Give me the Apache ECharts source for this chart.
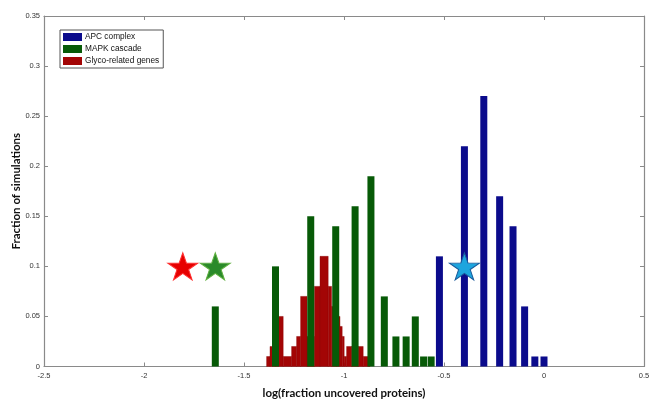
<!DOCTYPE html>
<html>
<head>
<meta charset="utf-8">
<script src="https://cdn.jsdelivr.net/npm/echarts@6/dist/echarts.min.js"></script>
<style>
  html, body { margin: 0; padding: 0; background: #fff; }
  #chart { width: 651px; height: 402px; }
</style>
</head>
<body>
<div id="chart"></div>
<script>
// APC complex (10 proteins): x = log10(k/10), k = 3..10
const apcX = [-0.5229, -0.3979, -0.3010, -0.2218, -0.1549, -0.0969, -0.0458, 0];
const apcY = [0.11, 0.22, 0.27, 0.17, 0.14, 0.06, 0.01, 0.01];

// MAPK cascade (44 proteins): x = log10(k/44), k = 1..12
const mapkX = [-1.6435, -1.3424, -1.1663, -1.0414, -0.9445, -0.8653,
               -0.7984, -0.7404, -0.6893, -0.6435, -0.6021, -0.5643];
const mapkY = [0.06, 0.10, 0.15, 0.14, 0.16, 0.19, 0.07, 0.03, 0.03, 0.05, 0.01, 0.01];

// Glyco-related genes: histogram bin edges and heights
const glycoEdges = [-1.387, -1.370, -1.342, -1.304, -1.262, -1.237, -1.217, -1.185,
                    -1.148, -1.120, -1.079, -1.062, -1.037, -1.020, -1.009, -0.999,
                    -0.987, -0.962, -0.929, -0.904, -0.870];
const glycoY = [0.01, 0.02, 0.05, 0.01, 0.02, 0.03, 0.07, 0.03, 0.08, 0.11,
                0.08, 0.06, 0.05, 0.04, 0.03, 0.01, 0.02, 0.02, 0.02, 0.01];

// Observed values (stars)
const starGlyco = [-1.806, 0.10];
const starMapk = [-1.6435, 0.10];
const starApc = [-0.3979, 0.10];

const xTicks = { min: -2.5, max: 0.5, interval: 0.5 };
const yTicks = { min: 0, max: 0.35, interval: 0.05 };

const blue = '#0b0b8c';
const green = '#075a07';
const red = '#a30505';

const starPath = 'path://M50,0 L61.8,35.1 L98.9,35.1 L68.9,56.9 L80.3,92.1 L50,70.3 L19.7,92.1 L31.1,56.9 L1.1,35.1 L38.2,35.1 Z';

const pairs = (xs, ys) => xs.map((x, i) => [x, ys[i]]);
const glycoData = glycoY.map((v, i) => [glycoEdges[i], glycoEdges[i + 1], v]);

const axisColor = '#8a8a8a';
const labelStyle = { fontSize: 7.5, color: '#333', fontFamily: 'Liberation Sans' };
const titleStyle = { fontSize: 11.5, fontWeight: 'bold', color: '#111', fontFamily: 'Lato' };

function frameAxis(extra) {
  return Object.assign({
    type: 'value',
    axisLine: { show: true, onZero: false, lineStyle: { color: axisColor, width: 1.2 } },
    axisTick: { show: true, inside: true, length: 4, lineStyle: { color: axisColor } },
    splitLine: { show: false }
  }, extra);
}

const chart = echarts.init(document.getElementById('chart'), null, { renderer: 'canvas' });

chart.setOption({
  animation: false,
  backgroundColor: '#fff',
  grid: { left: 44, right: 7, top: 16, bottom: 35.5, containLabel: false, outerBoundsMode: 'none' },
  legend: {
    orient: 'vertical',
    left: 60, top: 30,
    itemWidth: 19, itemHeight: 8, itemGap: 4,
    padding: [3, 4, 3, 3],
    borderColor: '#555', borderWidth: 1, borderRadius: 0,
    icon: 'rect',
    textStyle: { fontSize: 8.3, color: '#111', fontFamily: 'Liberation Sans', padding: [0, 0, 0, -2] },
    data: ['APC complex', 'MAPK cascade', 'Glyco-related genes']
  },
  xAxis: [
    frameAxis(Object.assign({}, xTicks, {
      position: 'bottom',
      name: 'log(fraction uncovered proteins)',
      nameLocation: 'middle',
      nameGap: 21,
      nameMoveOverlap: false,
      nameTextStyle: titleStyle,
      axisLabel: Object.assign({ margin: 5 }, labelStyle)
    })),
    frameAxis(Object.assign({}, xTicks, {
      position: 'top',
      axisLabel: { show: false }
    }))
  ],
  yAxis: [
    frameAxis(Object.assign({}, yTicks, {
      position: 'left',
      name: 'Fraction of simulations',
      nameLocation: 'middle',
      nameGap: 22,
      nameMoveOverlap: false,
      nameTextStyle: titleStyle,
      axisLabel: Object.assign({ margin: 4 }, labelStyle)
    })),
    frameAxis(Object.assign({}, yTicks, {
      position: 'right',
      axisLabel: { show: false }
    }))
  ],
  series: [
    {
      name: 'MAPK cascade',
      type: 'bar',
      xAxisIndex: 0, yAxisIndex: 0,
      barWidth: 7,
      barGap: '-100%',
      itemStyle: { color: green },
      data: pairs(mapkX, mapkY)
    },
    {
      name: 'APC complex',
      type: 'bar',
      xAxisIndex: 0, yAxisIndex: 0,
      barWidth: 7,
      barGap: '-100%',
      itemStyle: { color: blue },
      data: pairs(apcX, apcY)
    },
    {
      name: 'Glyco-related genes',
      type: 'custom',
      xAxisIndex: 0, yAxisIndex: 0,
      itemStyle: { color: red },
      encode: { x: [0, 1], y: 2 },
      renderItem: function (params, api) {
        const p0 = api.coord([api.value(0), 0]);
        const p1 = api.coord([api.value(1), api.value(2)]);
        return {
          type: 'rect',
          shape: { x: p0[0], y: p1[1], width: p1[0] - p0[0], height: p0[1] - p1[1] },
          style: { fill: red, stroke: '#8a0404', lineWidth: 0.4 }
        };
      },
      data: glycoData
    },
    {
      type: 'scatter',
      xAxisIndex: 0, yAxisIndex: 0,
      symbol: starPath,
      symbolSize: [30, 27],
      z: 5,
      data: [
        { value: starGlyco, itemStyle: { color: '#e60000', borderColor: '#ff3030', borderWidth: 1, opacity: 1 } },
        { value: starMapk, itemStyle: { color: '#2a8a2a', borderColor: '#60b040', borderWidth: 1, opacity: 1 } },
        { value: starApc, itemStyle: { color: '#1da5de', borderColor: '#1a5a9a', borderWidth: 1, opacity: 1 } }
      ]
    }
  ]
});
</script>
</body>
</html>
